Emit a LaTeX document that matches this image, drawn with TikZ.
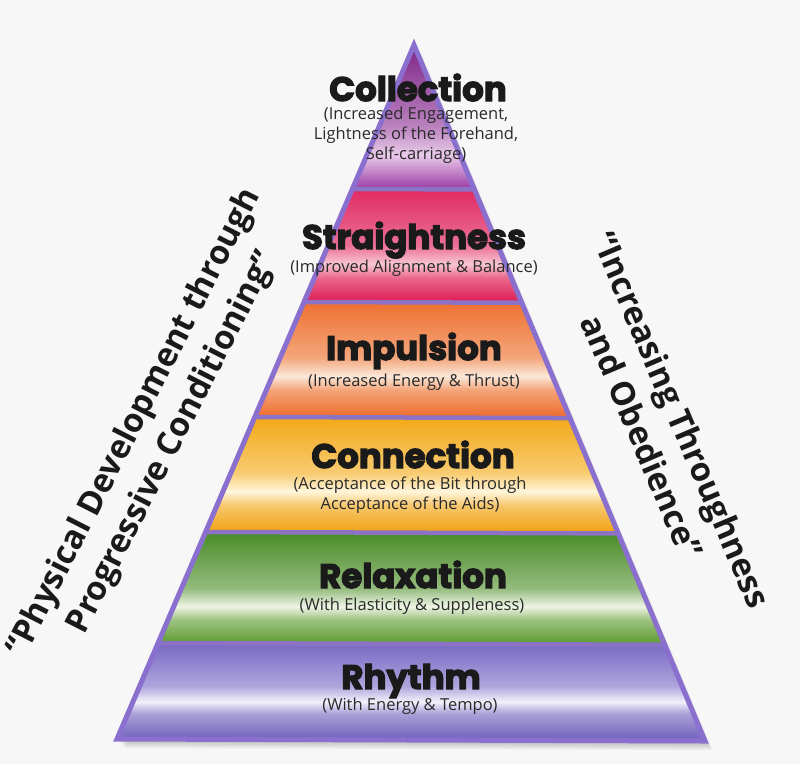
\documentclass[tikz,border=0pt]{standalone}
\usepackage{fontspec}
\usetikzlibrary{calc}
\newfontfamily\headfont{Poppins}[BoldFeatures={FakeBold=3.5}]
\newfontfamily\subfont{Open Sans}
\newfontfamily\sidefont{Open Sans}

\definecolor{bgcol}{HTML}{F7F7F7}
\definecolor{edgecol}{HTML}{8A6FCF}
\definecolor{sepcol}{HTML}{8C72C4}
\definecolor{txtcol}{HTML}{1A1A1A}
\definecolor{subcol}{HTML}{2A2A2A}
% band colours: top / light / bottom
\definecolor{collT}{HTML}{7E2688}\definecolor{collL}{HTML}{E9CBE9}\definecolor{collB}{HTML}{9A3AA4}
\definecolor{strT}{HTML}{E02A62}\definecolor{strL}{HTML}{F8C6D4}\definecolor{strB}{HTML}{DE1A52}
\definecolor{impT}{HTML}{EE7030}\definecolor{impL}{HTML}{FBE8D8}\definecolor{impB}{HTML}{EE6A2A}
\definecolor{conT}{HTML}{F2A818}\definecolor{conL}{HTML}{FFF6DC}\definecolor{conB}{HTML}{F0A010}
\definecolor{relT}{HTML}{4A8C28}\definecolor{relL}{HTML}{EEF4E4}\definecolor{relB}{HTML}{5A9A2E}
\definecolor{rhyT}{HTML}{7868C4}\definecolor{rhyL}{HTML}{F2F0FA}\definecolor{rhyB}{HTML}{6E5EBC}

\pgfdeclareverticalshading{shColl}{100bp}{color(0bp)=(collB); color(25bp)=(collB); color(31bp)=(collL!50!collB); color(37bp)=(collL); color(47bp)=(collL!55!collT); color(75bp)=(collT); color(100bp)=(collT)}
\pgfdeclareverticalshading{shStr}{100bp}{color(0bp)=(strB); color(25bp)=(strB); color(36bp)=(strL!45!strB); color(42bp)=(strL); color(50bp)=(strL!45!strT); color(75bp)=(strT); color(100bp)=(strT)}
\pgfdeclareverticalshading{shImp}{100bp}{color(0bp)=(impB); color(25bp)=(impB); color(37bp)=(impL!45!impB); color(43bp)=(impL); color(51bp)=(impL!45!impT); color(75bp)=(impT); color(100bp)=(impT)}
\pgfdeclareverticalshading{shCon}{100bp}{color(0bp)=(conB); color(25bp)=(conB); color(37bp)=(conL!45!conB); color(43bp)=(conL); color(51bp)=(conL!45!conT); color(75bp)=(conT); color(100bp)=(conT)}
\pgfdeclareverticalshading{shRel}{100bp}{color(0bp)=(relB); color(25bp)=(relB); color(36bp)=(relL!45!relB); color(42bp)=(relL); color(50bp)=(relL!45!relT); color(75bp)=(relT); color(100bp)=(relT)}
\pgfdeclareverticalshading{shRhy}{100bp}{color(0bp)=(rhyB); color(25bp)=(rhyB); color(39bp)=(rhyL!45!rhyB); color(45bp)=(rhyL); color(53bp)=(rhyL!45!rhyT); color(75bp)=(rhyT); color(100bp)=(rhyT)}

\tikzset{
  head/.style={font=\headfont\bfseries\fontsize{34}{36}\selectfont, text=txtcol, inner sep=0pt, anchor=base},
  subtxt/.style={font=\subfont\fontsize{16.5}{20}\selectfont, text=subcol, align=center, inner sep=0pt, anchor=base},
  side/.style={font=\sidefont\bfseries\fontsize{33}{43}\selectfont, text=txtcol, align=center, inner sep=0pt},
  seprule/.style={draw=sepcol, line width=4.5pt},
  outline/.style={draw=edgecol, line width=5pt, line join=miter, miter limit=20},
}

\begin{document}
\begin{tikzpicture}[x=1pt,y=-1pt]
\fill[bgcol] (0,0) rectangle (800,764);
\useasboundingbox (0,0) rectangle (800,764);

\coordinate (apex) at (414,45);
\coordinate (bl) at (117,739);
\coordinate (br) at (705,741);

% soft shadow
\foreach \i in {1,...,5}{
  \fill[black, opacity=0.05] ($(apex)+(1.5*\i,1.8*\i)$) -- ($(br)+(1.5*\i,1.8*\i)$) -- ($(bl)+(1.5*\i,1.8*\i)$) -- cycle;
}

% band boundaries
\coordinate (l1) at ($(apex)!0.2075!(bl)$); \coordinate (r1) at ($(apex)!0.2075!(br)$);
\coordinate (l2) at ($(apex)!0.3703!(bl)$); \coordinate (r2) at ($(apex)!0.3703!(br)$);
\coordinate (l3) at ($(apex)!0.5360!(bl)$); \coordinate (r3) at ($(apex)!0.5360!(br)$);
\coordinate (l4) at ($(apex)!0.7017!(bl)$); \coordinate (r4) at ($(apex)!0.7017!(br)$);
\coordinate (l5) at ($(apex)!0.8617!(bl)$); \coordinate (r5) at ($(apex)!0.8617!(br)$);

\shade[shading=shColl] (apex) -- (r1) -- (l1) -- cycle;
\shade[shading=shStr] (l1) -- (r1) -- (r2) -- (l2) -- cycle;
\shade[shading=shImp] (l2) -- (r2) -- (r3) -- (l3) -- cycle;
\shade[shading=shCon] (l3) -- (r3) -- (r4) -- (l4) -- cycle;
\shade[shading=shRel] (l4) -- (r4) -- (r5) -- (l5) -- cycle;
\shade[shading=shRhy] (l5) -- (r5) -- (br) -- (bl) -- cycle;

\draw[seprule] (l1) -- (r1);
\draw[seprule] (l2) -- (r2);
\draw[seprule] (l3) -- (r3);
\draw[seprule] (l4) -- (r4);
\draw[seprule] (l5) -- (r5);
\draw[outline] (apex) -- (br) -- (bl) -- cycle;

% labels (anchored at the baseline of the last line)
\node[head] (hColl) at (418,101) {Collection};
\node[subtxt] (sColl) at (416,159) {(Increased Engagement,\\Lightness of the Forehand,\\Self-carriage)};

\node[head] (hStr) at (414,249) {Straightness};
\node[subtxt] (sStr) at (414,272) {(Improved Alignment \& Balance)};

\node[head] (hImp) at (414,360) {Impulsion};
\node[subtxt] (sImp) at (414,386) {(Increased Energy \& Thrust)};

\node[head] (hCon) at (413,468) {Connection};
\node[subtxt] (sCon) at (410,509) {(Acceptance of the Bit through\\Acceptance of the Aids)};

\node[head] (hRel) at (413,588) {Relaxation};
\node[subtxt] (sRel) at (412,610) {(With Elasticity \& Suppleness)};

\node[head] (hRhy) at (411,689) {Rhythm};
\node[subtxt] (sRhy) at (410,710) {(With Energy \& Tempo)};

% side captions
\node[side, rotate=63] (leftcap) at (154,433) {“Physical Development through\\Progressive Conditioning”};
\node[side, rotate=-67] (rightcap) at (662,428) {“Increasing Throughness\\and Obedience”};
\end{tikzpicture}
\end{document}
